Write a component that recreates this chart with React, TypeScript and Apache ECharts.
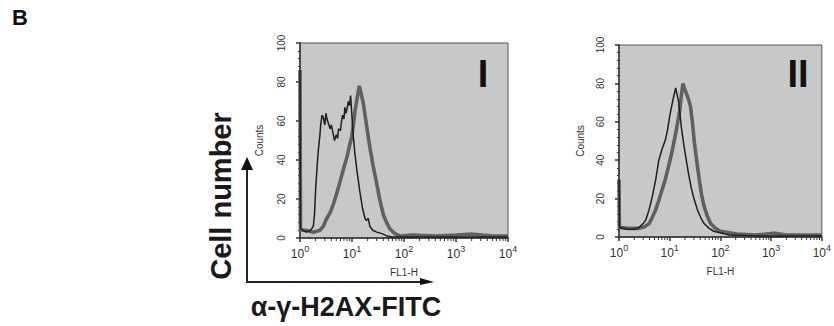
import React, { useEffect, useRef } from "react";
import * as echarts from "echarts";

// ---- data ----
const xTickExponents = ["0", "1", "2", "3", "4"];
const yTicks = [0, 20, 40, 60, 80, 100];
const minorDecades = [1, 10, 100, 1000];
const minorMultipliers = [2, 3, 4, 5, 6, 7, 8, 9];

// Panel I
const p1ControlX = [1, 1.02, 1.3, 1.6, 1.8, 1.9, 2.0, 2.15, 2.25, 2.4, 2.5, 2.65, 2.8, 3.0, 3.15, 3.3, 3.5, 3.8, 4.0, 4.3, 4.6, 5.0, 5.3, 5.5, 6.0, 6.3, 6.6, 7.0, 7.3, 7.6, 8.0, 8.5, 9.0, 9.4, 10.0, 10.6, 11.4, 12.5, 13.3, 14.3, 16, 17.8, 19, 20.6, 22, 25, 30, 40, 47, 60, 100, 300, 1000, 3000, 10000];
const p1ControlY = [86, 5, 3, 4, 6, 12, 25, 38, 45, 52, 58, 63, 62, 58, 64, 61, 59, 56, 58, 54, 50, 53, 51, 56, 55, 60, 63, 61, 67, 64, 66, 70, 68, 73, 62, 52, 43, 34, 29, 23, 15, 10, 9, 10, 6, 4, 3, 2, 1, 0.5, 0.5, 0.5, 0.5, 0.5, 0.5];
const p1TreatedX = [1, 1.02, 1.3, 1.8, 2.43, 2.8, 3.26, 3.8, 4.4, 5.1, 5.9, 6.8, 7.9, 8.9, 9.9, 10.6, 11.4, 12.6, 13.8, 15, 16.5, 19, 22.2, 25.5, 29.8, 34, 40, 46, 53.8, 65, 83, 150, 400, 1000, 2000, 5000, 10000];
const p1TreatedY = [86, 4, 4, 3, 4, 6, 10, 13, 17.5, 23, 29, 35, 41, 47, 52, 58, 65, 72, 78, 74, 69, 58, 46, 37, 28, 20, 12, 8, 4.6, 2.5, 1, 1.5, 1, 1.5, 2, 1, 1];

// Panel II
const p2ControlX = [1, 1.02, 1.5, 2.0, 2.5, 3.0, 3.39, 3.9, 4.54, 5.3, 6.1, 7.1, 8.2, 9.1, 10, 11.5, 13.1, 14, 15.1, 17, 19, 21.2, 23.5, 26.4, 30, 35.4, 41, 47.6, 60, 74, 151, 500, 2000, 10000];
const p2ControlY = [30, 5, 4, 4, 5, 7, 9, 14, 21, 30, 40, 46, 50.5, 56, 63, 71, 77.6, 74, 70, 57, 48, 40, 33, 26, 20, 14, 10, 7, 4.5, 3, 1, 0.5, 0.5, 0.5];
const p2TreatedX = [1, 1.02, 1.5, 2.5, 3.3, 3.92, 4.5, 5.25, 6.1, 7.05, 8.2, 9.46, 11, 12.7, 14.2, 15.8, 17, 18.3, 19.7, 21.2, 23.3, 25.7, 28, 30.7, 34, 38.3, 42.5, 47.6, 55, 64, 80, 100, 209, 500, 1200, 2000, 10000];
const p2TreatedY = [30, 5, 4.5, 4.5, 5.5, 7, 10, 14, 19, 24.5, 30, 36.6, 44, 52, 59, 66, 74, 80, 77, 75, 72, 68, 60, 49, 40, 30, 22, 16, 11, 7, 4.5, 3, 1.5, 1, 2, 1, 1];

const zip = (xs: number[], ys: number[]) => xs.map((x, i) => [x, ys[i]]);

const FONT = "Liberation Sans, Arial, sans-serif";
const BG = "#c8c8c8";

export default function App() {
  const ref = useRef<HTMLDivElement>(null);

  useEffect(() => {
    if (!ref.current) return;
    const chart = echarts.init(ref.current, undefined, { renderer: "svg" });

    const minorTicks: number[][] = [];
    minorDecades.forEach((d) => minorMultipliers.forEach((m) => minorTicks.push([d * m])));

    const grids = [
      { left: 300, top: 43, width: 208, height: 195 },
      { left: 619, top: 45, width: 209, height: 192 },
    ].map((g) => ({
      ...g,
      show: true,
      backgroundColor: BG,
      borderColor: "#555",
      borderWidth: 1,
    }));

    const xAxes = [0, 1].map((i) => ({
      type: "log" as const,
      gridIndex: i,
      logBase: 10,
      min: 1,
      max: 10000,
      name: "FL1-H",
      nameLocation: "middle" as const,
      nameGap: 29,
      nameTextStyle: { fontFamily: FONT, fontSize: 10, color: "#333" },
      axisLine: { show: true, lineStyle: { color: "#333", width: 1.5 } },
      axisTick: { show: true, length: 4, lineStyle: { color: "#333", width: 1.5 } },
      splitLine: { show: false },
      axisLabel: {
        margin: 6,
        color: "#333",
        fontFamily: FONT,
        formatter: (v: number) => {
          const e = xTickExponents[Math.round(Math.log10(v))];
          return `{b|10}{s|${e}}`;
        },
        rich: {
          b: { fontSize: 12, fontFamily: FONT, color: "#333" },
          s: { fontSize: 9, fontFamily: FONT, color: "#333", padding: [0, 0, 10, 0] },
        },
      },
    }));

    const yAxes = [0, 1].map((i) => ({
      type: "value" as const,
      gridIndex: i,
      min: yTicks[0],
      max: yTicks[yTicks.length - 1],
      interval: 20,
      name: "Counts",
      nameLocation: "middle" as const,
      nameRotate: 90,
      nameGap: i === 0 ? 36 : 34,
      nameTextStyle: { fontFamily: FONT, fontSize: 10, color: "#333" },
      axisLine: { show: true, lineStyle: { color: "#333", width: 1.5 } },
      axisTick: { show: true, length: 4, lineStyle: { color: "#333", width: 1.5 } },
      minorTick: { show: true, splitNumber: 5, length: 2, lineStyle: { color: "#333", width: 1 } },
      splitLine: { show: false },
      axisLabel: { show: false },
    }));

    const lineSeries = (data: number[][], idx: number, thick: boolean) => ({
      type: "line" as const,
      xAxisIndex: idx,
      yAxisIndex: idx,
      data,
      showSymbol: false,
      symbol: "none",
      smooth: false,
      lineStyle: thick
        ? { color: "#606060", width: 3.6 }
        : { color: "#1e1e1e", width: 1.5 },
      z: thick ? 3 : 4,
    });

    const minorTickSeries = (idx: number) => ({
      type: "custom" as const,
      xAxisIndex: idx,
      yAxisIndex: idx,
      data: minorTicks,
      clip: false,
      silent: true,
      renderItem: (_p: any, api: any) => {
        const pt = api.coord([api.value(0), 0]);
        return {
          type: "line",
          shape: { x1: pt[0], y1: pt[1], x2: pt[0], y2: pt[1] + 3 },
          style: { stroke: "#333", lineWidth: 1 },
        };
      },
    });

    const yLabelSeries = (idx: number) => ({
      type: "custom" as const,
      xAxisIndex: idx,
      yAxisIndex: idx,
      data: yTicks.map((v) => [1, v]),
      clip: false,
      silent: true,
      renderItem: (_p: any, api: any) => {
        const pt = api.coord([api.value(0), api.value(1)]);
        return {
          type: "text",
          x: pt[0] - 19,
          y: pt[1],
          rotation: Math.PI / 2,
          style: {
            text: String(api.value(1)),
            fontSize: 10,
            fontFamily: FONT,
            fill: "#333",
            align: "center",
            verticalAlign: "middle",
          },
        };
      },
    });

    chart.setOption({
      animation: false,
      backgroundColor: "#fff",
      grid: grids,
      xAxis: xAxes,
      yAxis: yAxes,
      series: [
        lineSeries(zip(p1TreatedX, p1TreatedY), 0, true),
        lineSeries(zip(p1ControlX, p1ControlY), 0, false),
        lineSeries(zip(p2TreatedX, p2TreatedY), 1, true),
        lineSeries(zip(p2ControlX, p2ControlY), 1, false),
        minorTickSeries(0),
        minorTickSeries(1),
        yLabelSeries(0),
        yLabelSeries(1),
      ],
      graphic: [
        {
          type: "text",
          x: 12,
          y: 17,
          style: { text: "B", fontSize: 22, fontWeight: "bold", fontFamily: FONT, fill: "#111", align: "left", verticalAlign: "middle" },
        },
        {
          type: "text",
          x: 483,
          y: 74,
          style: { text: "I", fontSize: 38, fontWeight: "bold", fontFamily: FONT, fill: "#111", align: "center", verticalAlign: "middle" },
          z: 10,
        },
        {
          type: "text",
          x: 798,
          y: 74,
          style: { text: "II", fontSize: 38, fontWeight: "bold", fontFamily: FONT, fill: "#111", align: "center", verticalAlign: "middle" },
          z: 10,
        },
        {
          type: "text",
          x: 221,
          y: 196,
          rotation: Math.PI / 2,
          style: { text: "Cell number", fontSize: 29, fontWeight: "bold", fontFamily: FONT, fill: "#1a1a1a", align: "center", verticalAlign: "middle" },
        },
        {
          type: "text",
          x: 346,
          y: 307,
          style: { text: "α-γ-H2AX-FITC", fontSize: 27, fontWeight: "bold", fontFamily: FONT, fill: "#1a1a1a", align: "center", verticalAlign: "middle" },
        },
        {
          type: "line",
          shape: { x1: 247, y1: 283, x2: 247, y2: 168 },
          style: { stroke: "#222", lineWidth: 2 },
        },
        {
          type: "polygon",
          shape: { points: [[241, 170], [253, 170], [247, 157]] },
          style: { fill: "#111" },
        },
        {
          type: "line",
          shape: { x1: 246, y1: 282, x2: 424, y2: 282 },
          style: { stroke: "#222", lineWidth: 2 },
        },
        {
          type: "polygon",
          shape: { points: [[420, 278], [434, 282], [420, 285]] },
          style: { fill: "#111" },
        },
      ],
    });

    return () => chart.dispose();
  }, []);

  return (
    <div
      ref={ref}
      style={{ position: "absolute", left: 0, top: 0, width: 834, height: 326, background: "#fff" }}
    />
  );
}
